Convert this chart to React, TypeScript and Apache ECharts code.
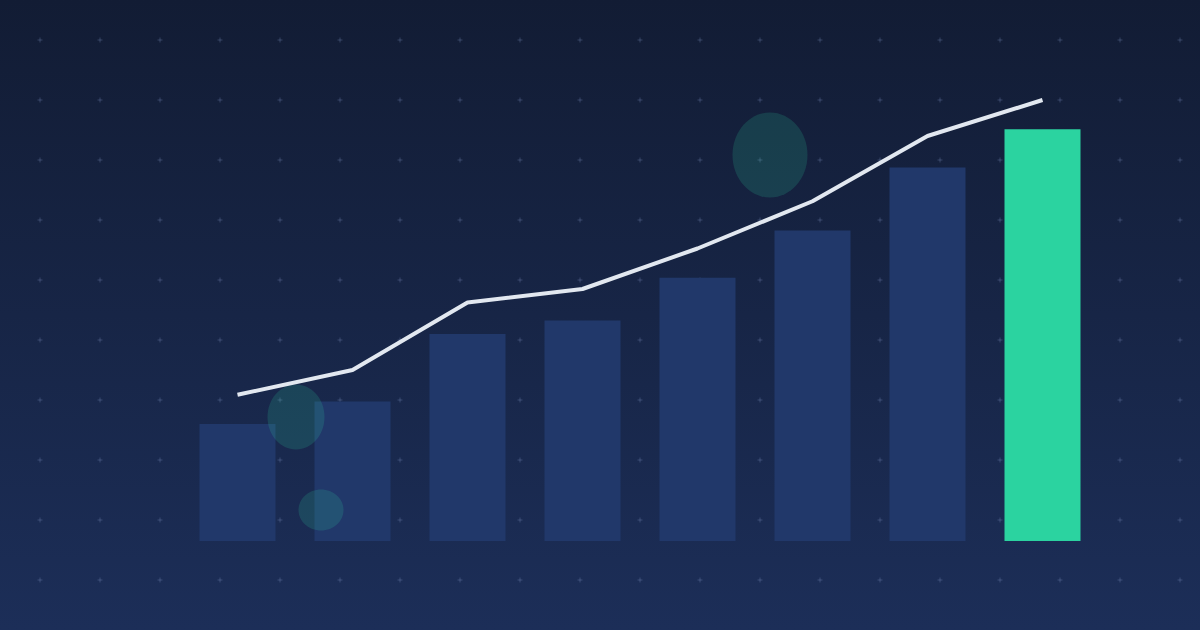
import { useRef, useEffect } from 'react'
import * as echarts from 'echarts'

// 8 periods, bars + trend line
const categories = ['P1', 'P2', 'P3', 'P4', 'P5', 'P6', 'P7', 'P8']
const barValues = [26, 31, 46, 49, 58.5, 69, 83, 91.5]
const lineValues = [32.5, 38, 53, 56, 65, 75.5, 90, 98]

// decorative bubbles: [cx, cy, rx, ry]
const bubbles = [
  [770, 155, 37.5, 42.5],
  [296, 417, 28.5, 32.5],
  [321, 510, 22.5, 20.5],
]

const W = 1200
const H = 630

export default function App() {
  const chartRef = useRef<HTMLDivElement>(null)

  useEffect(() => {
    if (!chartRef.current) return
    const prevMargin = document.body.style.margin
    document.body.style.margin = '0'

    const chart = echarts.init(chartRef.current, undefined, { renderer: 'svg' })

    // dot grid (little crosses)
    const dots: any[] = []
    for (let x = 40; x < W; x += 60) {
      for (let y = 40; y < H - 20; y += 60) {
        dots.push({
          type: 'rect', z: 0, silent: true,
          shape: { x: x - 2.5, y: y - 0.5, width: 5, height: 1 },
          style: { fill: 'rgba(120,140,185,0.35)' },
        })
        dots.push({
          type: 'rect', z: 0, silent: true,
          shape: { x: x - 0.5, y: y - 2.5, width: 1, height: 5 },
          style: { fill: 'rgba(120,140,185,0.35)' },
        })
      }
    }

    const circles = bubbles.map(([cx, cy, rx, ry]) => ({
      type: 'ellipse', z: 2, silent: true,
      shape: { cx, cy, rx, ry },
      style: { fill: 'rgba(45,212,160,0.17)' },
    }))

    const option: echarts.EChartsOption = {
      animation: false,
      backgroundColor: new echarts.graphic.LinearGradient(0, 0, 0, 1, [
        { offset: 0, color: '#121c34' },
        { offset: 1, color: '#1c2e58' },
      ]),
      graphic: [...dots, ...circles] as any,
      grid: { left: 180, right: 100, top: 91, bottom: 89 },
      xAxis: {
        type: 'category',
        data: categories,
        axisLine: { show: false },
        axisTick: { show: false },
        axisLabel: { show: false },
      },
      yAxis: {
        type: 'value',
        min: 0,
        max: 100,
        splitLine: { show: false },
        axisLabel: { show: false },
      },
      series: [
        {
          type: 'bar',
          z: 1,
          barWidth: 76,
          data: barValues.map((v, i) => ({
            value: v,
            itemStyle: { color: i === barValues.length - 1 ? '#2bd3a0' : '#21386a' },
          })),
        },
        {
          type: 'line',
          z: 3,
          data: lineValues,
          symbol: 'none',
          lineStyle: { color: '#e2e8f0', width: 4 },
        },
      ],
    }

    chart.setOption(option)

    return () => {
      chart.dispose()
      document.body.style.margin = prevMargin
    }
  }, [])

  return <div ref={chartRef} style={{ width: W, height: H }} />
}
